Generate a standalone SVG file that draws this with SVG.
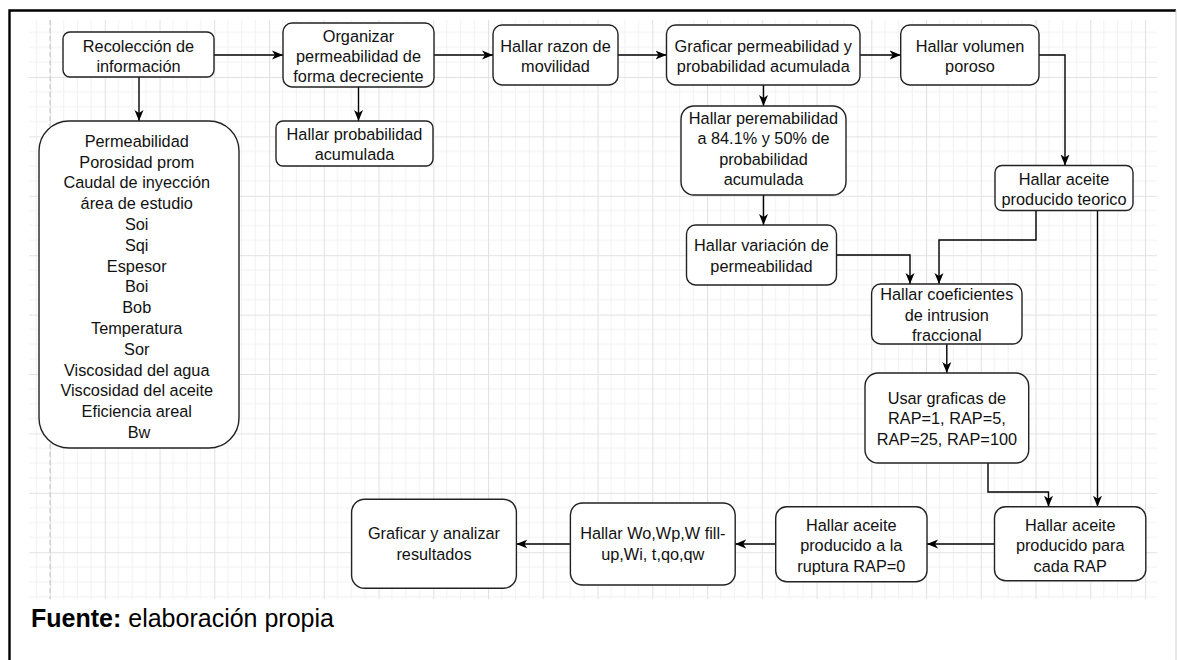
<svg xmlns="http://www.w3.org/2000/svg" width="1177" height="660" viewBox="0 0 1177 660">
<defs>
<style>
.b{fill:#fff;stroke:#222;stroke-width:1.4}
.t{font-family:"Liberation Sans",Arial,sans-serif;font-size:16.3px;fill:#111;text-anchor:middle}
.c{fill:none;stroke:#000;stroke-width:1.4;marker-end:url(#arr)}
.cap{font-family:"Liberation Sans",Arial,sans-serif;font-size:25px;fill:#000}
</style>
<marker id="arr" markerUnits="userSpaceOnUse" markerWidth="12" markerHeight="10" refX="11" refY="5" orient="auto">
<path d="M0,0.5 L11,5 L0,9.5 L3,5 z" fill="#000"/>
</marker>
<pattern id="grid" x="50" y="77" width="54.75" height="59.4" patternUnits="userSpaceOnUse">
<path d="M13.69,0V59.4M27.375,0V59.4M41.06,0V59.4M0,14.85H54.75M0,29.7H54.75M0,44.55H54.75" stroke="#f1f1f1" stroke-width="1"/>
<path d="M0.5,0V59.4M0,0.5H54.75" stroke="#e2e2e2" stroke-width="1.2"/>
</pattern>
</defs>
<rect x="0" y="0" width="1177" height="660" fill="#fff"/>
<rect x="29" y="20" width="1128" height="579" fill="url(#grid)"/>
<line x1="50" y1="20" x2="50" y2="599" stroke="#c4c4c4" stroke-width="1" stroke-dasharray="5,3"/>
<path d="M9.5,661V10.5H1176" fill="none" stroke="#000" stroke-width="2.4"/>
<line x1="1176" y1="10" x2="1176" y2="660" stroke="#cfcfcf" stroke-width="1"/>

<g id="connectors">
<path class="c" d="M214,55H283"/>
<path class="c" d="M139,77V121"/>
<path class="c" d="M358.5,87V121"/>
<path class="c" d="M434,55H493"/>
<path class="c" d="M618,55H666.5"/>
<path class="c" d="M860,55H900.7"/>
<path class="c" d="M1039,55H1065V165.5"/>
<path class="c" d="M763.5,85V106"/>
<path class="c" d="M763.5,195V225"/>
<path class="c" d="M836.6,255H910V284"/>
<path class="c" d="M1036,210.5V240H939V284"/>
<path class="c" d="M1097.5,210.5V506.7"/>
<path class="c" d="M946.8,344V373"/>
<path class="c" d="M988,463V492H1048.5V506.7"/>
<path class="c" d="M994.5,544H927"/>
<path class="c" d="M775.7,544H735.2"/>
<path class="c" d="M570.4,544H516.4"/>
</g>

<g id="n1"><rect class="b" x="63" y="32" width="151" height="45" rx="7"/>
<text class="t"><tspan x="138.5" y="51.5">Recolección de</tspan><tspan x="138.5" y="71.5">información</tspan></text></g>

<g id="n2"><rect class="b" x="283" y="23" width="151" height="64" rx="9"/>
<text class="t"><tspan x="358.5" y="41.5">Organizar</tspan><tspan x="358.5" y="62">permeabilidad de</tspan><tspan x="358.5" y="82">forma decreciente</tspan></text></g>

<g id="n3"><rect class="b" x="276" y="121" width="157" height="45" rx="7"/>
<text class="t"><tspan x="354.5" y="139.5">Hallar probabilidad</tspan><tspan x="354.5" y="159.5">acumulada</tspan></text></g>

<g id="n4"><rect class="b" x="39" y="121" width="200" height="327" rx="30"/>
<text class="t">
<tspan x="139" y="146.7">Permeabilidad</tspan>
<tspan x="139" y="167.5">Porosidad prom</tspan>
<tspan x="139" y="188.3">Caudal de inyección</tspan>
<tspan x="139" y="209.1">área de estudio</tspan>
<tspan x="139" y="229.9">Soi</tspan>
<tspan x="139" y="250.7">Sqi</tspan>
<tspan x="139" y="271.5">Espesor</tspan>
<tspan x="139" y="292.3">Boi</tspan>
<tspan x="139" y="313.1">Bob</tspan>
<tspan x="139" y="333.9">Temperatura</tspan>
<tspan x="139" y="354.7">Sor</tspan>
<tspan x="139" y="375.5">Viscosidad del agua</tspan>
<tspan x="139" y="396.3">Viscosidad del aceite</tspan>
<tspan x="139" y="417.1">Eficiencia areal</tspan>
<tspan x="139" y="437.9">Bw</tspan>
</text></g>

<g id="n5"><rect class="b" x="493" y="25" width="125" height="60" rx="9"/>
<text class="t"><tspan x="555.5" y="52">Hallar razon de</tspan><tspan x="555.5" y="72">movilidad</tspan></text></g>

<g id="n6"><rect class="b" x="666.5" y="25" width="193.5" height="60" rx="9"/>
<text class="t"><tspan x="763.3" y="52">Graficar permeabilidad y</tspan><tspan x="763.3" y="72">probabilidad acumulada</tspan></text></g>

<g id="n7"><rect class="b" x="900.7" y="25" width="138.3" height="60" rx="9"/>
<text class="t"><tspan x="970" y="52">Hallar volumen</tspan><tspan x="970" y="72">poroso</tspan></text></g>

<g id="n8"><rect class="b" x="681" y="106" width="165" height="89" rx="13"/>
<text class="t"><tspan x="763.5" y="123.5">Hallar peremabilidad</tspan><tspan x="763.5" y="144">a 84.1% y 50% de</tspan><tspan x="763.5" y="164.5">probabilidad</tspan><tspan x="763.5" y="185">acumulada</tspan></text></g>

<g id="n9"><rect class="b" x="995" y="165.5" width="138" height="45" rx="7"/>
<text class="t"><tspan x="1064" y="185">Hallar aceite</tspan><tspan x="1064" y="204.5">producido teorico</tspan></text></g>

<g id="n10"><rect class="b" x="686.5" y="225" width="150" height="60" rx="9"/>
<text class="t"><tspan x="761.5" y="251">Hallar variación de</tspan><tspan x="761.5" y="271.5">permeabilidad</tspan></text></g>

<g id="n11"><rect class="b" x="871.6" y="284" width="150.4" height="60" rx="9"/>
<text class="t"><tspan x="946.8" y="300">Hallar coeficientes</tspan><tspan x="946.8" y="320.5">de intrusion</tspan><tspan x="946.8" y="341">fraccional</tspan></text></g>

<g id="n12"><rect class="b" x="865" y="373" width="163.7" height="90" rx="13"/>
<text class="t"><tspan x="946.9" y="403.5">Usar graficas de</tspan><tspan x="946.9" y="424">RAP=1, RAP=5,</tspan><tspan x="946.9" y="444.5">RAP=25, RAP=100</tspan></text></g>

<g id="n13"><rect class="b" x="994.5" y="506.7" width="151.3" height="74" rx="11"/>
<text class="t"><tspan x="1070.2" y="530.5">Hallar aceite</tspan><tspan x="1070.2" y="551">producido para</tspan><tspan x="1070.2" y="571.5">cada RAP</tspan></text></g>

<g id="n14"><rect class="b" x="775.7" y="506.7" width="151.3" height="75" rx="11"/>
<text class="t"><tspan x="851.3" y="530.5">Hallar aceite</tspan><tspan x="851.3" y="551">producido a la</tspan><tspan x="851.3" y="571.5">ruptura RAP=0</tspan></text></g>

<g id="n15"><rect class="b" x="570.4" y="503" width="164.8" height="82" rx="12"/>
<text class="t"><tspan x="652.8" y="539">Hallar Wo,Wp,W fill-</tspan><tspan x="652.8" y="559.5">up,Wi, t,qo,qw</tspan></text></g>

<g id="n16"><rect class="b" x="351.6" y="499.3" width="164.8" height="89" rx="13"/>
<text class="t"><tspan x="434" y="539">Graficar y analizar</tspan><tspan x="434" y="559.5">resultados</tspan></text></g>

<text class="cap" x="31" y="627"><tspan font-weight="bold">Fuente:</tspan> elaboración propia</text>
</svg>
